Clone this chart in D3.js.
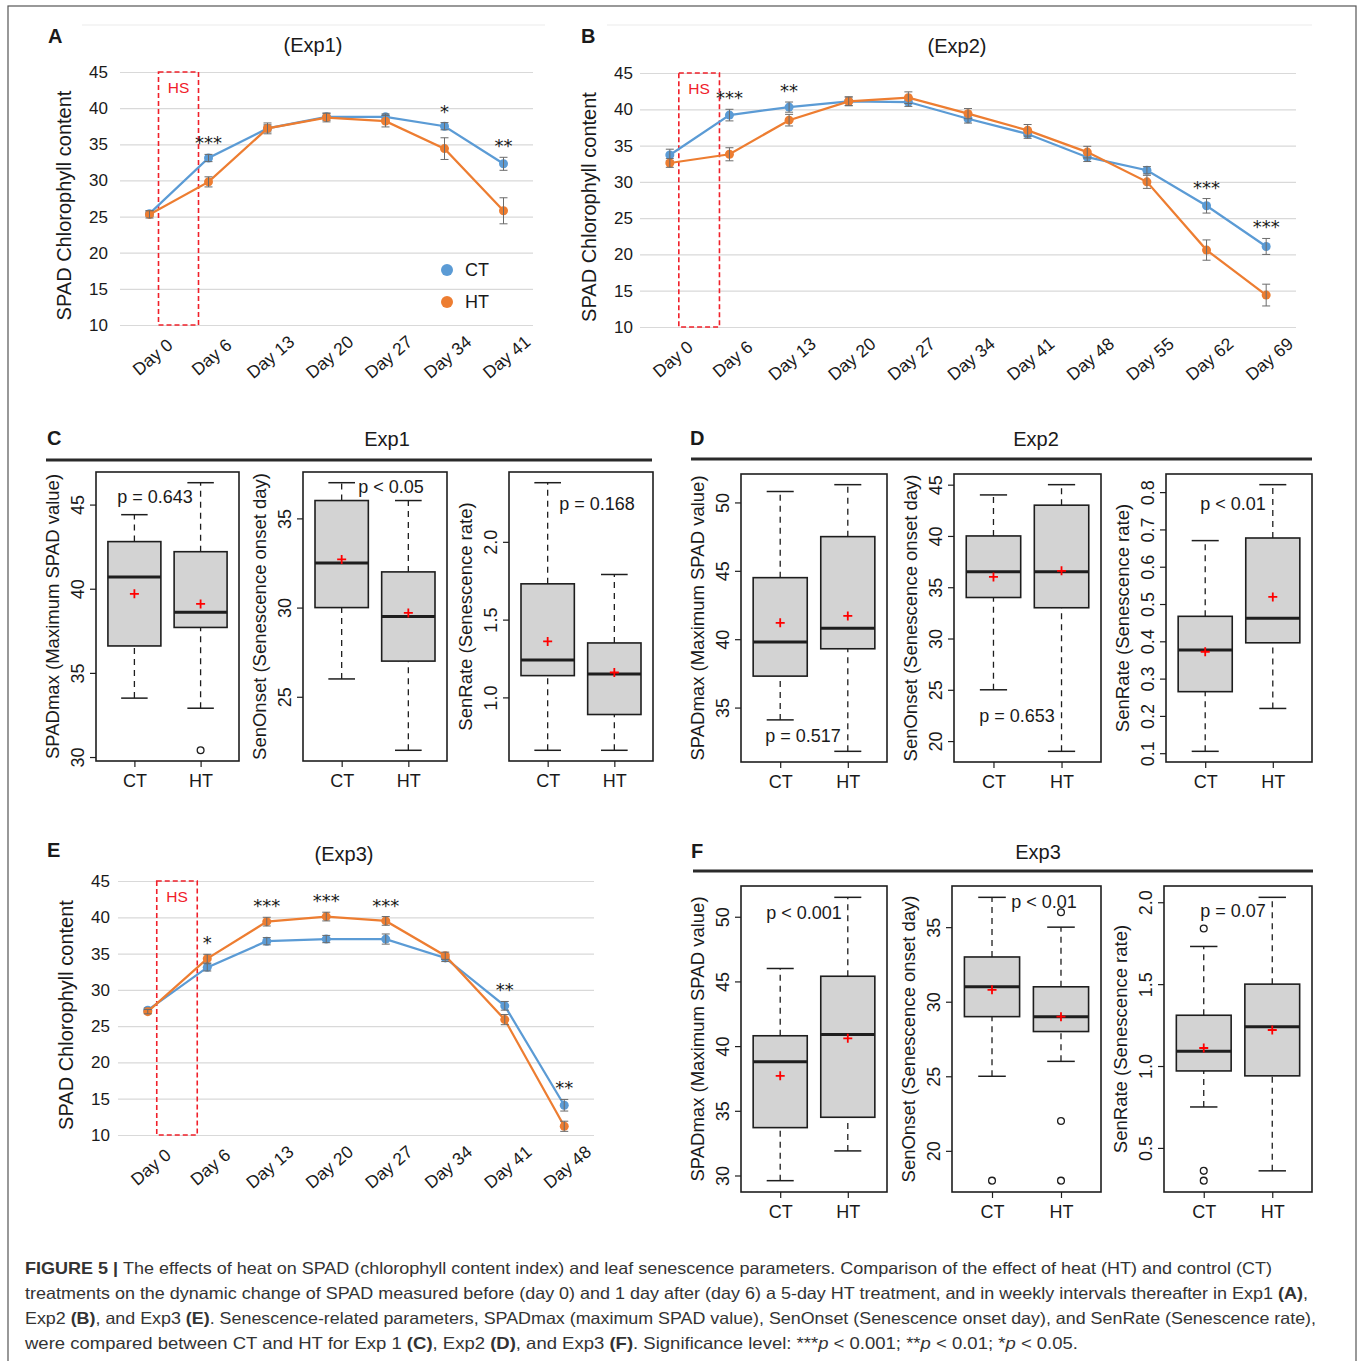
<!DOCTYPE html>
<html>
<head>
<meta charset="utf-8">
<script src="https://cdn.jsdelivr.net/npm/d3@7"></script>
<style>
  body { margin: 0; background: #fff; }
  svg text { font-family: "Liberation Sans", Arial, sans-serif; fill: #1a1a1a; }
  svg text.sig { font-family: "DejaVu Sans", sans-serif; }
</style>
</head>
<body>
<svg id="fig" width="1360" height="1361"></svg>
<script>
// ---------- data: SPAD time courses ----------
const spadTicks = [10, 15, 20, 25, 30, 35, 40, 45];

const daysExp1 = ['Day 0', 'Day 6', 'Day 13', 'Day 20', 'Day 27', 'Day 34', 'Day 41'];
const ctExp1 = [25.4, 33.1, 37.2, 38.8, 38.8, 37.5, 32.3];
const ctErrExp1 = [0.4, 0.5, 0.5, 0.5, 0.4, 0.5, 0.9];
const htExp1 = [25.3, 29.8, 37.2, 38.7, 38.2, 34.4, 25.8];
const htErrExp1 = [0.5, 0.7, 0.75, 0.6, 0.8, 1.5, 1.8];
const sigExp1 = ['', '***', '', '', '', '*', '**'];

const daysExp2 = ['Day 0', 'Day 6', 'Day 13', 'Day 20', 'Day 27', 'Day 34', 'Day 41', 'Day 48', 'Day 55', 'Day 62', 'Day 69'];
const ctExp2 = [33.7, 39.2, 40.3, 41.1, 41.0, 38.7, 36.6, 33.4, 31.6, 26.7, 21.1];
const ctErrExp2 = [0.8, 0.8, 0.7, 0.6, 0.6, 0.6, 0.6, 0.6, 0.5, 1.0, 1.1];
const htExp2 = [32.6, 33.8, 38.5, 41.1, 41.6, 39.4, 37.1, 34.1, 30.0, 20.6, 14.4];
const htErrExp2 = [0.6, 0.9, 0.8, 0.6, 0.8, 0.7, 0.8, 0.8, 0.9, 1.4, 1.5];
const sigExp2 = ['', '***', '**', '', '', '', '', '', '', '***', '***'];

const daysExp3 = ['Day 0', 'Day 6', 'Day 13', 'Day 20', 'Day 27', 'Day 34', 'Day 41', 'Day 48'];
const ctExp3 = [27.2, 33.1, 36.7, 37.0, 37.0, 34.4, 27.8, 14.1];
const ctErrExp3 = [0.3, 0.5, 0.5, 0.5, 0.7, 0.5, 0.6, 0.8];
const htExp3 = [27.0, 34.3, 39.4, 40.1, 39.5, 34.7, 25.9, 11.2];
const htErrExp3 = [0.3, 0.6, 0.6, 0.6, 0.6, 0.5, 0.7, 0.7];
const sigExp3 = ['', '*', '***', '***', '***', '', '**', '**'];

// ---------- data: senescence parameters (whisker low, Q1, median, Q3, whisker high) ----------
const groups = ['CT', 'HT'];

const spadmaxExp1 = [
  { five: [33.5, 36.6, 40.7, 42.8, 44.4], mean: 39.7, out: [] },
  { five: [32.9, 37.7, 38.6, 42.2, 46.3], mean: 39.1, out: [30.4] }
];
const senOnsetExp1 = [
  { five: [26.0, 30.0, 32.5, 36.0, 37.0], mean: 32.7, out: [] },
  { five: [22.0, 27.0, 29.5, 32.0, 36.0], mean: 29.7, out: [] }
];
const senRateExp1 = [
  { five: [0.66, 1.14, 1.24, 1.73, 2.38], mean: 1.36, out: [] },
  { five: [0.66, 0.89, 1.15, 1.35, 1.79], mean: 1.16, out: [] }
];

const spadmaxExp2 = [
  { five: [34.1, 37.3, 39.8, 44.5, 50.8], mean: 41.2, out: [] },
  { five: [31.8, 39.3, 40.8, 47.5, 51.3], mean: 41.7, out: [] }
];
const senOnsetExp2 = [
  { five: [25.0, 34.0, 36.5, 40.0, 44.0], mean: 36.0, out: [] },
  { five: [19.0, 33.0, 36.5, 43.0, 45.0], mean: 36.6, out: [] }
];
const senRateExp2 = [
  { five: [0.105, 0.265, 0.377, 0.467, 0.67], mean: 0.372, out: [] },
  { five: [0.22, 0.396, 0.462, 0.677, 0.82], mean: 0.519, out: [] }
];

const spadmaxExp3 = [
  { five: [29.6, 33.7, 38.8, 40.8, 46.0], mean: 37.7, out: [] },
  { five: [31.9, 34.5, 40.9, 45.4, 51.5], mean: 40.6, out: [] }
];
const senOnsetExp3 = [
  { five: [25.0, 29.0, 31.0, 33.0, 37.0], mean: 30.8, out: [18.0] },
  { five: [26.0, 28.0, 29.0, 31.0, 35.0], mean: 29.0, out: [36.0, 22.0, 18.0] }
];
const senRateExp3 = [
  { five: [0.75, 0.97, 1.09, 1.31, 1.73], mean: 1.11, out: [1.84, 0.36, 0.30] },
  { five: [0.36, 0.94, 1.24, 1.50, 2.03], mean: 1.22, out: [] }
];

const pExp1 = ['p = 0.643', 'p < 0.05', 'p = 0.168'];
const pExp2 = ['p = 0.517', 'p = 0.653', 'p < 0.01'];
const pExp3 = ['p < 0.001', 'p < 0.01', 'p = 0.07'];

const ticksSpadmax1 = [30, 35, 40, 45];
const ticksOnset1 = [25, 30, 35];
const ticksRate1 = [1.0, 1.5, 2.0];
const ticksSpadmax2 = [35, 40, 45, 50];
const ticksOnset2 = [20, 25, 30, 35, 40, 45];
const ticksRate2 = [0.1, 0.2, 0.3, 0.4, 0.5, 0.6, 0.7, 0.8];
const ticksSpadmax3 = [30, 35, 40, 45, 50];
const ticksOnset3 = [20, 25, 30, 35];
const ticksRate3 = [0.5, 1.0, 1.5, 2.0];

const boxTitles = ['SPADmax (Maximum SPAD value)', 'SenOnset (Senescence onset day)', 'SenRate (Senescence rate)'];

const captionLines = [
  [['FIGURE 5 | ', 'b'], ['The effects of heat on SPAD (chlorophyll content index) and leaf senescence parameters. Comparison of the effect of heat (HT) and control (CT)', '']],
  [['treatments on the dynamic change of SPAD measured before (day 0) and 1 day after (day 6) a 5-day HT treatment, and in weekly intervals thereafter in Exp1 ', ''], ['(A)', 'b'], [',', '']],
  [['Exp2 ', ''], ['(B)', 'b'], [', and Exp3 ', ''], ['(E)', 'b'], ['. Senescence-related parameters, SPADmax (maximum SPAD value), SenOnset (Senescence onset day), and SenRate (Senescence rate),', '']],
  [['were compared between CT and HT for Exp 1 ', ''], ['(C)', 'b'], [', Exp2 ', ''], ['(D)', 'b'], [', and Exp3 ', ''], ['(F)', 'b'],
   ['. Significance level: ***', ''], ['p', 'i'], [' < 0.001; **', ''], ['p', 'i'], [' < 0.01; *', ''], ['p', 'i'], [' < 0.05.', '']]
];

// ---------- drawing ----------
const CT_COLOR = '#5b9bd5';
const HT_COLOR = '#ed7d31';
const svg = d3.select('#fig');

svg.append('rect')
  .attr('x', 8).attr('y', 6).attr('width', 1348).attr('height', 1380)
  .attr('fill', 'none').attr('stroke', '#555').attr('stroke-width', 1.2);

function panelLetter(ch, x, y) {
  svg.append('text').attr('x', x).attr('y', y)
    .attr('font-size', 20).attr('font-weight', 'bold').text(ch);
}

function lineChart(o) {
  const g = svg.append('g');
  const x = d3.scaleBand().domain(o.days).range([o.left, o.right]);
  const y = d3.scaleLinear().domain([10, 45]).range([o.bottom, o.top]);
  const cx = d => x(d) + x.bandwidth() / 2;

  if (o.frameLine) {
    g.append('line').attr('x1', o.frameLine[0]).attr('x2', o.frameLine[1])
      .attr('y1', 25).attr('y2', 25).attr('stroke', '#ebebeb').attr('stroke-width', 1);
  }

  const yAxis = g.append('g').attr('transform', `translate(${o.left},0)`)
    .call(d3.axisLeft(y).tickValues(spadTicks).tickSize(-(o.right - o.left)).tickPadding(o.pad));
  yAxis.select('.domain').remove();
  yAxis.selectAll('.tick line').attr('stroke', '#d9d9d9').attr('stroke-width', 1.2);
  yAxis.selectAll('.tick text').attr('font-size', 17);

  const xAxis = g.append('g').attr('transform', `translate(0,${o.bottom})`)
    .call(d3.axisBottom(x).tickSize(0));
  xAxis.select('.domain').remove();
  xAxis.selectAll('.tick text')
    .attr('y', 0).attr('dy', '0.35em').attr('text-anchor', 'middle')
    .attr('transform', 'translate(3,32) rotate(-40)')
    .attr('font-size', 17.5);

  // heat stress window
  const hx0 = cx(o.days[0]) + 9, hx1 = cx(o.days[1]) - 10;
  g.append('rect').attr('x', hx0).attr('y', y(45)).attr('width', hx1 - hx0).attr('height', y(10) - y(45))
    .attr('fill', 'none').attr('stroke', '#f0202a').attr('stroke-width', 1.6).attr('stroke-dasharray', '5,3');
  g.append('text').attr('x', (hx0 + hx1) / 2).attr('y', y(45) + 21).attr('text-anchor', 'middle')
    .attr('font-size', 15.5).style('fill', '#f0202a').text('HS');

  [[o.ct, o.ctErr, CT_COLOR], [o.ht, o.htErr, HT_COLOR]].forEach(([vals, errs, col]) => {
    const pts = o.days.map((d, i) => ({ x: cx(d), v: vals[i], e: errs[i] }));
    g.append('path').datum(pts)
      .attr('d', d3.line().x(p => p.x).y(p => y(p.v)))
      .attr('fill', 'none').attr('stroke', col).attr('stroke-width', 2.25);
    g.selectAll(null).data(pts).join('circle')
      .attr('cx', p => p.x).attr('cy', p => y(p.v)).attr('r', 4.5).attr('fill', col);
    const eb = g.selectAll(null).data(pts).join('g').attr('stroke', '#6b6b6b').attr('stroke-width', 1);
    eb.append('line').attr('x1', p => p.x).attr('x2', p => p.x)
      .attr('y1', p => y(p.v - p.e)).attr('y2', p => y(p.v + p.e));
    eb.append('line').attr('x1', p => p.x - 4).attr('x2', p => p.x + 4)
      .attr('y1', p => y(p.v - p.e)).attr('y2', p => y(p.v - p.e));
    eb.append('line').attr('x1', p => p.x - 4).attr('x2', p => p.x + 4)
      .attr('y1', p => y(p.v + p.e)).attr('y2', p => y(p.v + p.e));
  });

  const sig = o.days.map((d, i) => ({
    d, s: o.sig[i],
    top: Math.max(o.ct[i] + o.ctErr[i], o.ht[i] + o.htErr[i])
  })).filter(p => p.s);
  g.selectAll(null).data(sig).join('text').attr('class', 'sig')
    .attr('x', p => cx(p.d)).attr('y', p => y(p.top) - 5)
    .attr('text-anchor', 'middle').attr('font-size', 18).text(p => p.s);

  g.append('text').attr('x', o.titleX).attr('y', o.top - 20).attr('text-anchor', 'middle')
    .attr('font-size', 20).text(o.title);
  g.append('text').attr('transform', `translate(${o.ytX},${(o.top + o.bottom) / 2 + 7}) rotate(-90)`)
    .attr('dy', '0.35em').attr('text-anchor', 'middle').attr('font-size', 20)
    .text('SPAD Chlorophyll content');

  if (o.legend) {
    const lg = g.append('g').attr('transform', `translate(${o.legend[0]},${o.legend[1]})`);
    [['CT', CT_COLOR], ['HT', HT_COLOR]].forEach(([t, c], i) => {
      lg.append('circle').attr('cx', 0).attr('cy', i * 32).attr('r', 6).attr('fill', c);
      lg.append('text').attr('x', 18).attr('y', i * 32 + 6).attr('font-size', 18).text(t);
    });
  }
}

function boxChart(o) {
  const [x0, x1, y0, y1] = o.frame;
  const g = svg.append('g');
  const ext = d3.extent(o.stats.flatMap(s => [s.five[0], s.five[4], ...s.out]));
  const padV = (ext[1] - ext[0]) * 0.04;
  const y = d3.scaleLinear().domain([ext[0] - padV, ext[1] + padV]).range([y1, y0]);
  const x = d3.scaleLinear().domain([0.42, 2.58]).range([x0, x1]);
  const hw = x(1.4) - x(1);
  const cw = x(1.2) - x(1);
  const ink = '#1e1e1e';

  const yAxis = g.append('g').attr('transform', `translate(${x0},0)`)
    .call(d3.axisLeft(y).tickValues(o.ticks).tickSize(6).tickFormat(o.fmt));
  yAxis.select('.domain').remove();
  yAxis.selectAll('.tick line').attr('stroke', ink).attr('stroke-width', 1.2);
  yAxis.selectAll('.tick text')
    .attr('x', 0).attr('dy', '0.35em').attr('text-anchor', 'middle')
    .attr('transform', 'translate(-18,0) rotate(-90)').attr('font-size', 18);

  const xAxis = g.append('g').attr('transform', `translate(0,${y1})`)
    .call(d3.axisBottom(x).tickValues([1, 2]).tickFormat(i => groups[i - 1]).tickSize(6).tickPadding(7));
  xAxis.select('.domain').remove();
  xAxis.selectAll('.tick line').attr('stroke', ink).attr('stroke-width', 1.2);
  xAxis.selectAll('.tick text').attr('font-size', 18);

  const bx = g.selectAll(null).data(o.stats).join('g')
    .attr('transform', (s, i) => `translate(${x(i + 1)},0)`);
  bx.append('line').attr('y1', s => y(s.five[3])).attr('y2', s => y(s.five[4]))
    .attr('stroke', ink).attr('stroke-width', 1.3).attr('stroke-dasharray', '6,5');
  bx.append('line').attr('y1', s => y(s.five[0])).attr('y2', s => y(s.five[1]))
    .attr('stroke', ink).attr('stroke-width', 1.3).attr('stroke-dasharray', '6,5');
  bx.append('line').attr('x1', -cw).attr('x2', cw).attr('y1', s => y(s.five[4])).attr('y2', s => y(s.five[4]))
    .attr('stroke', ink).attr('stroke-width', 1.5);
  bx.append('line').attr('x1', -cw).attr('x2', cw).attr('y1', s => y(s.five[0])).attr('y2', s => y(s.five[0]))
    .attr('stroke', ink).attr('stroke-width', 1.5);
  bx.append('rect').attr('x', -hw).attr('width', 2 * hw)
    .attr('y', s => y(s.five[3])).attr('height', s => y(s.five[1]) - y(s.five[3]))
    .attr('fill', '#d3d3d3').attr('stroke', ink).attr('stroke-width', 1.6);
  bx.append('line').attr('x1', -hw).attr('x2', hw).attr('y1', s => y(s.five[2])).attr('y2', s => y(s.five[2]))
    .attr('stroke', ink).attr('stroke-width', 3);
  bx.selectAll(null).data(s => s.out).join('circle')
    .attr('cx', 0).attr('cy', v => y(v)).attr('r', 3.4)
    .attr('fill', '#fff').attr('stroke', ink).attr('stroke-width', 1.3);
  bx.append('path').attr('d', s => `M-4.5,${y(s.mean)}H4.5M0,${y(s.mean) - 4.5}V${y(s.mean) + 4.5}`)
    .attr('stroke', '#ff0000').attr('stroke-width', 1.8);

  g.append('rect').attr('x', x0).attr('y', y0).attr('width', x1 - x0).attr('height', y1 - y0)
    .attr('fill', 'none').attr('stroke', ink).attr('stroke-width', 1.6);

  g.append('text').attr('transform', `translate(${x0 - 43},${(y0 + y1) / 2}) rotate(-90)`)
    .attr('dy', '0.35em').attr('text-anchor', 'middle').attr('font-size', 18.5).text(o.title);

  g.append('text').attr('x', o.pPos[0]).attr('y', o.pPos[1]).attr('text-anchor', 'middle')
    .attr('font-size', 18).text(o.p);
}

function boxHeader(letter, title, lx, ly, titleX, rule) {
  panelLetter(letter, lx, ly);
  svg.append('text').attr('x', titleX).attr('y', ly + 1).attr('text-anchor', 'middle')
    .attr('font-size', 20).text(title);
  svg.append('line').attr('x1', rule[0]).attr('x2', rule[1]).attr('y1', rule[2]).attr('y2', rule[2])
    .attr('stroke', '#2a2a2a').attr('stroke-width', 3);
}

// A, B, E
panelLetter('A', 48, 43);
lineChart({ days: daysExp1, ct: ctExp1, ctErr: ctErrExp1, ht: htExp1, htErr: htErrExp1, sig: sigExp1,
  left: 120, right: 533, top: 72, bottom: 325, pad: 12, title: '(Exp1)', titleX: 313, ytX: 64,
  legend: [447, 270], frameLine: [82, 545] });

panelLetter('B', 581, 43);
lineChart({ days: daysExp2, ct: ctExp2, ctErr: ctErrExp2, ht: htExp2, htErr: htErrExp2, sig: sigExp2,
  left: 640, right: 1296, top: 73, bottom: 327, pad: 7, title: '(Exp2)', titleX: 957, ytX: 589,
  frameLine: [607, 1312] });

panelLetter('E', 47, 857);
lineChart({ days: daysExp3, ct: ctExp3, ctErr: ctErrExp3, ht: htExp3, htErr: htErrExp3, sig: sigExp3,
  left: 118, right: 594, top: 881, bottom: 1135, pad: 8, title: '(Exp3)', titleX: 344, ytX: 66 });

// C, D, F
const f0 = d3.format('d'), f1 = d3.format('.1f');

boxHeader('C', 'Exp1', 47, 445, 387, [46, 652, 460]);
boxChart({ frame: [96, 239, 472, 761], stats: spadmaxExp1, ticks: ticksSpadmax1, fmt: f0, title: boxTitles[0], p: pExp1[0], pPos: [155, 503] });
boxChart({ frame: [303, 447, 472, 761], stats: senOnsetExp1, ticks: ticksOnset1, fmt: f0, title: boxTitles[1], p: pExp1[1], pPos: [391, 493] });
boxChart({ frame: [509, 653, 472, 761], stats: senRateExp1, ticks: ticksRate1, fmt: f1, title: boxTitles[2], p: pExp1[2], pPos: [597, 510] });

boxHeader('D', 'Exp2', 690, 445, 1036, [691, 1312, 459]);
boxChart({ frame: [741, 887, 474, 762], stats: spadmaxExp2, ticks: ticksSpadmax2, fmt: f0, title: boxTitles[0], p: pExp2[0], pPos: [803, 742] });
boxChart({ frame: [954, 1101, 474, 762], stats: senOnsetExp2, ticks: ticksOnset2, fmt: f0, title: boxTitles[1], p: pExp2[1], pPos: [1017, 722] });
boxChart({ frame: [1166, 1312, 474, 762], stats: senRateExp2, ticks: ticksRate2, fmt: f1, title: boxTitles[2], p: pExp2[2], pPos: [1233, 510] });

boxHeader('F', 'Exp3', 691, 858, 1038, [693, 1313, 871]);
boxChart({ frame: [741, 887, 886, 1192], stats: spadmaxExp3, ticks: ticksSpadmax3, fmt: f0, title: boxTitles[0], p: pExp3[0], pPos: [804, 919] });
boxChart({ frame: [952, 1101, 886, 1192], stats: senOnsetExp3, ticks: ticksOnset3, fmt: f0, title: boxTitles[1], p: pExp3[1], pPos: [1044, 908] });
boxChart({ frame: [1164, 1312, 886, 1192], stats: senRateExp3, ticks: ticksRate3, fmt: f1, title: boxTitles[2], p: pExp3[2], pPos: [1233, 917] });

// caption
const capWidths = [1247, 1283, 1291, 1053];
captionLines.forEach((parts, i) => {
  const t = svg.append('text').attr('x', 25).attr('y', 1274 + i * 25)
    .attr('font-size', 16.5).attr('textLength', capWidths[i]).attr('lengthAdjust', 'spacingAndGlyphs');
  parts.forEach(([s, st]) => {
    t.append('tspan').style('fill', '#333')
      .attr('font-weight', st === 'b' ? 'bold' : null)
      .attr('font-style', st === 'i' ? 'italic' : null)
      .text(s);
  });
});
</script>
</body>
</html>
